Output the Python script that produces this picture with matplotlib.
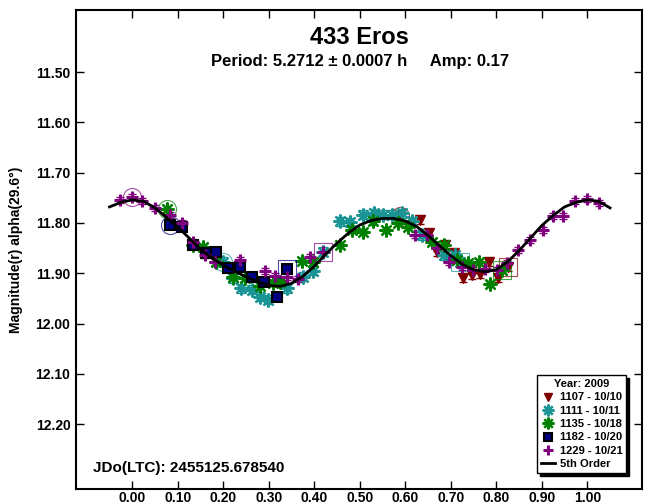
import numpy as np
import matplotlib
matplotlib.use("Agg")
import matplotlib.pyplot as plt
from matplotlib.lines import Line2D

plt.rcParams['font.family'] = ['Liberation Sans', 'DejaVu Sans']
plt.rcParams['font.weight'] = 'bold'

#---------------------------------------------------
# data
#---------------------------------------------------

sessions = ["1107 - 10/10", "1111 - 10/11", "1135 - 10/18", "1182 - 10/20", "1229 - 10/21"]

ph_1107 = [0.588, 0.632, 0.651, 0.669, 0.687, 0.707, 0.727, 0.746, 0.764, 0.785, 0.804, 0.826]
mag_1107 = [11.787, 11.794, 11.820, 11.857, 11.844, 11.859, 11.910, 11.903, 11.901, 11.877, 11.910, 11.887]

ph_1111 = [0.200, 0.222, 0.240, 0.262, 0.281, 0.299, 0.339, 0.376, 0.398, 0.420, 0.456, 0.478,
           0.508, 0.531, 0.552, 0.570, 0.592, 0.614, 0.636, 0.684, 0.709, 0.720]
mag_1111 = [11.877, 11.910, 11.930, 11.933, 11.947, 11.953, 11.930, 11.907, 11.895, 11.857, 11.797, 11.799,
            11.784, 11.781, 11.784, 11.784, 11.781, 11.797, 11.824, 11.864, 11.864, 11.877]

ph_1135 = [0.077, 0.134, 0.156, 0.185, 0.222, 0.247, 0.281, 0.310, 0.325, 0.374, 0.398, 0.456, 0.482,
           0.508, 0.530, 0.558, 0.585, 0.607, 0.658, 0.685, 0.713, 0.738, 0.761, 0.786, 0.812]
mag_1135 = [11.773, 11.844, 11.847, 11.877, 11.907, 11.910, 11.925, 11.920, 11.917, 11.876, 11.877, 11.844, 11.814,
            11.817, 11.797, 11.814, 11.800, 11.807, 11.837, 11.844, 11.874, 11.879, 11.877, 11.921, 11.893]

ph_1182 = [0.083, 0.109, 0.134, 0.161, 0.185, 0.211, 0.237, 0.262, 0.289, 0.317, 0.341]
mag_1182 = [11.804, 11.807, 11.844, 11.860, 11.857, 11.890, 11.888, 11.907, 11.917, 11.947, 11.892]

ph_1229 = [-0.027, 0.000, 0.021, 0.050, 0.083, 0.109, 0.133, 0.160, 0.182, 0.237, 0.292, 0.314, 0.339,
           0.365, 0.391, 0.420, 0.621, 0.647, 0.669, 0.695, 0.724, 0.749, 0.775, 0.801, 0.823, 0.848,
           0.874, 0.903, 0.925, 0.947, 0.973, 1.000, 1.026]
mag_1229 = [11.754, 11.748, 11.756, 11.771, 11.784, 11.801, 11.837, 11.864, 11.877, 11.873, 11.896, 11.906, 11.907,
            11.911, 11.867, 11.858, 11.824, 11.824, 11.850, 11.877, 11.887, 11.893, 11.892, 11.893, 11.880, 11.854,
            11.834, 11.814, 11.787, 11.786, 11.756, 11.752, 11.761]

# typical photometric error per session
mag_err = [0.008, 0.009, 0.006, 0.005, 0.006]

# first / last observation of each session (index into the arrays)
first_idx = [0, 0, 0, 0, 1]
last_idx = [-1, -1, -1, -1, 15]

# 5th order Fourier fit
fit_phase = [-0.05, -0.025, 0.00, 0.025, 0.05, 0.075, 0.10, 0.125, 0.15, 0.175, 0.20, 0.225,
             0.25, 0.275, 0.30, 0.325, 0.35, 0.375, 0.40, 0.425, 0.45, 0.475, 0.50, 0.525,
             0.55, 0.575, 0.60, 0.625, 0.65, 0.675, 0.70, 0.725, 0.75, 0.775, 0.80, 0.825,
             0.85, 0.875, 0.90, 0.925, 0.95, 0.975, 1.00, 1.025, 1.05]
fit_mag = [11.768, 11.759, 11.754, 11.757, 11.770, 11.789, 11.808, 11.830, 11.852, 11.870, 11.884, 11.896,
           11.907, 11.917, 11.924, 11.926, 11.920, 11.906, 11.886, 11.862, 11.840, 11.820, 11.804, 11.795,
           11.791, 11.791, 11.796, 11.807, 11.825, 11.845, 11.865, 11.882, 11.893, 11.897, 11.893, 11.877,
           11.855, 11.830, 11.805, 11.785, 11.768, 11.759, 11.754, 11.757, 11.770]

phases = [ph_1107, ph_1111, ph_1135, ph_1182, ph_1229]
mags = [mag_1107, mag_1111, mag_1135, mag_1182, mag_1229]

#---------------------------------------------------
# styles
#---------------------------------------------------

colors = ['#800000', '#1A9494', '#008000', '#000080', '#800080']
styles = [
    dict(marker='v', ms=7, mfc='#800000', mec='#800000', mew=1),
    dict(marker=(8, 2, 0), ms=10, mfc='#1A9494', mec='#1A9494', mew=1.6),
    dict(marker=(8, 2, 0), ms=10, mfc='#008000', mec='#008000', mew=1.6),
    dict(marker='s', ms=7, mfc='#000080', mec='black', mew=1.5),
    dict(marker='+', ms=9, mfc='#800080', mec='#800080', mew=2.2),
]

fig = plt.figure(figsize=(6.47, 5.04), dpi=100)
ax = fig.add_axes([76 / 647, 1 - 489.3 / 504, 566 / 647, 479.3 / 504])

for i in range(len(sessions)):
    x = np.array(phases[i])
    y = np.array(mags[i])
    ax.errorbar(x, y, yerr=mag_err[i], fmt='none', ecolor=colors[i], elinewidth=1,
                capsize=3, capthick=1, zorder=2)
    ax.plot(x, y, ls='none', zorder=3, **styles[i])
    # open ring on the first point, open box on the last one
    ax.plot(x[first_idx[i]], y[first_idx[i]], marker='o', ms=13, mfc='none',
            mec=colors[i], mew=0.8, alpha=0.7, zorder=3)
    ax.plot(x[last_idx[i]], y[last_idx[i]], marker='s', ms=13, mfc='none',
            mec=colors[i], mew=0.8, alpha=0.7, zorder=3)

ax.plot(fit_phase, fit_mag, color='black', lw=2, zorder=4)

ax.set_xlim(-0.1237, 1.1202)
ax.set_ylim(12.3295, 11.3765)

ax.set_xticks(np.arange(0, 1.01, 0.1))
ax.set_yticks(np.arange(11.5, 12.21, 0.1))
ax.xaxis.set_major_formatter(matplotlib.ticker.FormatStrFormatter('%.2f'))
ax.yaxis.set_major_formatter(matplotlib.ticker.FormatStrFormatter('%.2f'))
ax.tick_params(axis='x', direction='in', top=True, length=6, width=1, pad=1, labelsize=10)
ax.tick_params(axis='y', direction='in', right=True, length=6, width=1, pad=4, labelsize=10)
for lab in ax.get_xticklabels() + ax.get_yticklabels():
    lab.set_fontweight('bold')
for sp in ax.spines.values():
    sp.set_linewidth(1.5)

ax.set_ylabel('Magnitude(r) alpha(29.6°)', fontsize=10, fontweight='bold')
ax.yaxis.set_label_coords(-0.094, 0.5)

fig.text(0.556, 0.925, '433 Eros', ha='center', va='center', fontsize=17, fontweight='bold')
fig.text(0.556, 0.877, 'Period: 5.2712 \u00b1 0.0007 h     Amp: 0.17', ha='center', va='center',
         fontsize=12, fontweight='bold')
ax.text(0.03, 0.045, 'JDo(LTC): 2455125.678540', transform=ax.transAxes, ha='left', va='center',
        fontsize=11, fontweight='bold')

handles = [Line2D([], [], ls='none', **styles[i]) for i in range(len(sessions))]
handles.append(Line2D([], [], color='black', lw=2))
leg = ax.legend(handles, sessions + ['5th Order'], title='Year: 2009', loc='lower right',
                bbox_to_anchor=(0.972, 0.034), borderaxespad=0, frameon=True, fancybox=False,
                shadow={'color': 'black', 'alpha': 1}, prop={'weight': 'bold', 'size': 8},
                title_fontproperties={'weight': 'bold', 'size': 8}, handlelength=1.3,
                handletextpad=0.4, labelspacing=0.3, borderpad=0.35, markerscale=0.85)
leg.get_frame().set_edgecolor('black')
leg.get_frame().set_linewidth(1)

fig.savefig('out.png', dpi=100)
